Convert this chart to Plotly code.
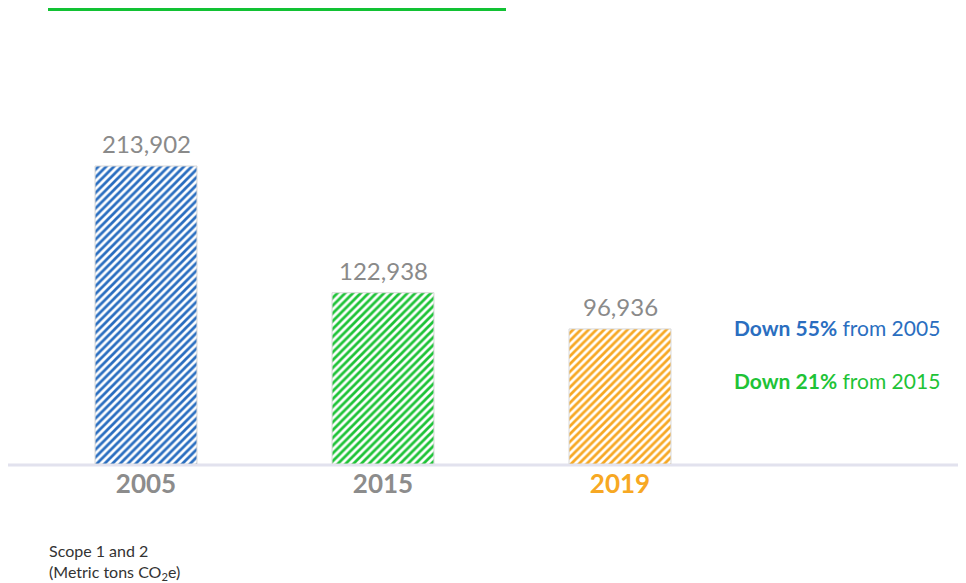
import plotly.graph_objects as go

years = ["2005", "2015", "2019"]
emissions = [213902, 122938, 96936]
bar_colors = ["#2a6ec0", "#1ec337", "#f7a823"]
tick_colors = ["#8c8c8c", "#8c8c8c", "#f7a823"]
value_labels = ["213,902", "122,938", "96,936"]
notes = [("Down 55%", " from 2005", "#2a6ec0"), ("Down 21%", " from 2015", "#1ec337")]

xpos = list(range(len(years)))

W, H = 958, 575          # page has 8px body margin
OFF = 8
PLOT_H = 456             # baseline at page y=464


def px(x):
    return (x - OFF) / W


def py(y):
    return (PLOT_H - (y - OFF)) / PLOT_H


fig = go.Figure()
fig.add_trace(go.Bar(
    x=xpos, y=emissions,
    width=0.43,
    cliponaxis=False,
    marker=dict(
        color="white",
        line=dict(color="#d6d6d6", width=1),
        pattern=dict(shape="/", fgcolor=bar_colors, bgcolor="white", fgopacity=1,
                     size=5.5, solidity=0.5, fillmode="overlay"),
    ),
    hoverinfo="skip",
))

for xv, yv, lab in zip(xpos, emissions, value_labels):
    fig.add_annotation(x=xv, y=yv, xref="x", yref="y", text=lab, showarrow=False,
                       yanchor="bottom", yshift=6,
                       font=dict(size=24, color="#8a8a8a", family="Lato"))

ticktext = [f'<span style="color:{c}"><b>{y}</b></span>' for y, c in zip(years, tick_colors)]

fig.update_layout(
    width=W, height=H,
    margin=dict(l=0, r=0, t=0, b=H - PLOT_H),
    paper_bgcolor="white", plot_bgcolor="white",
    showlegend=False,
    font=dict(family="Lato", color="#333333"),
    xaxis=dict(range=[-138/237, (W - 138)/237], tickvals=xpos, ticktext=ticktext,
               tickfont=dict(size=26, family="Lato"), showgrid=False, zeroline=False,
               showline=False, ticks="", ticklabelstandoff=2),
    yaxis=dict(range=[0, 213902 * PLOT_H / 298], visible=False, showgrid=False, zeroline=False),
)

# baseline
fig.add_shape(type="line", xref="paper", yref="paper", x0=px(8), x1=px(958), y0=py(465), y1=py(465),
              line=dict(color="#e2e2ee", width=3), layer="below")
# top green rule
fig.add_shape(type="line", xref="paper", yref="paper", x0=px(48), x1=px(506), y0=py(9.5), y1=py(9.5),
              line=dict(color="#12c234", width=3))

for i, (bold, rest, col) in enumerate(notes):
    fig.add_annotation(xref="paper", yref="paper", x=px(732), y=py(327 + 54 * i),
                       xanchor="left", yanchor="middle", showarrow=False,
                       text=f"<b>{bold}</b>{rest}",
                       font=dict(size=21, color=col, family="Lato"))

fig.add_annotation(xref="paper", yref="paper", x=px(47), y=py(550),
                   xanchor="left", yanchor="middle", showarrow=False, align="left",
                   text="Scope 1 and 2", font=dict(size=16, color="#333333", family="Lato"))
fig.add_annotation(xref="paper", yref="paper", x=px(47), y=py(572),
                   xanchor="left", yanchor="middle", showarrow=False, align="left",
                   text="(Metric tons CO<sub>2</sub>e)", font=dict(size=16, color="#333333", family="Lato"))

fig.write_html("out.html")
